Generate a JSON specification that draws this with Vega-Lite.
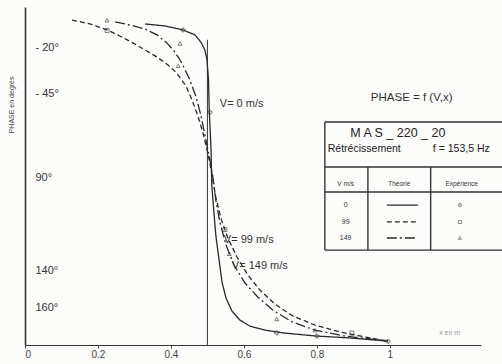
{
  "$schema": "https://vega.github.io/schema/vega-lite/v6.json",
  "width": 456,
  "height": 338,
  "padding": {"left": 25, "top": 7, "right": 21, "bottom": 19},
  "autosize": {"type": "none"},
  "background": "#fcfcfa",
  "config": {"view": {"stroke": null}, "font": "Liberation Sans", "text": {"font": "Liberation Sans", "color": "#333"}},
  "datasets": {
    "curves": [
      {"V": "0", "i": 1, "x": 0.329, "phase": 7.5},
      {"V": "0", "i": 2, "x": 0.384, "phase": 8.6},
      {"V": "0", "i": 3, "x": 0.433, "phase": 10.7},
      {"V": "0", "i": 4, "x": 0.466, "phase": 13.4},
      {"V": "0", "i": 5, "x": 0.482, "phase": 17.2},
      {"V": "0", "i": 6, "x": 0.493, "phase": 21.5},
      {"V": "0", "i": 7, "x": 0.499, "phase": 26.9},
      {"V": "0", "i": 8, "x": 0.503, "phase": 37.6},
      {"V": "0", "i": 9, "x": 0.505, "phase": 53.7},
      {"V": "0", "i": 10, "x": 0.510, "phase": 75.2},
      {"V": "0", "i": 11, "x": 0.512, "phase": 94},
      {"V": "0", "i": 12, "x": 0.518, "phase": 109},
      {"V": "0", "i": 13, "x": 0.523, "phase": 121},
      {"V": "0", "i": 14, "x": 0.532, "phase": 134.3},
      {"V": "0", "i": 15, "x": 0.540, "phase": 146.2},
      {"V": "0", "i": 16, "x": 0.551, "phase": 154.8},
      {"V": "0", "i": 17, "x": 0.567, "phase": 161.7},
      {"V": "0", "i": 18, "x": 0.589, "phase": 166.6},
      {"V": "0", "i": 19, "x": 0.616, "phase": 169.8},
      {"V": "0", "i": 20, "x": 0.658, "phase": 172},
      {"V": "0", "i": 21, "x": 0.712, "phase": 173.6},
      {"V": "0", "i": 22, "x": 0.800, "phase": 175.2},
      {"V": "0", "i": 23, "x": 0.890, "phase": 176.2},
      {"V": "0", "i": 24, "x": 0.995, "phase": 177.9},
      {"V": "99", "i": 1, "x": 0.129, "phase": 5.4},
      {"V": "99", "i": 2, "x": 0.178, "phase": 7.5},
      {"V": "99", "i": 3, "x": 0.225, "phase": 10.7},
      {"V": "99", "i": 4, "x": 0.260, "phase": 14},
      {"V": "99", "i": 5, "x": 0.296, "phase": 17.7},
      {"V": "99", "i": 6, "x": 0.329, "phase": 21.5},
      {"V": "99", "i": 7, "x": 0.362, "phase": 25.3},
      {"V": "99", "i": 8, "x": 0.392, "phase": 29.6},
      {"V": "99", "i": 9, "x": 0.416, "phase": 33.9},
      {"V": "99", "i": 10, "x": 0.441, "phase": 40.8},
      {"V": "99", "i": 11, "x": 0.458, "phase": 48.4},
      {"V": "99", "i": 12, "x": 0.474, "phase": 57},
      {"V": "99", "i": 13, "x": 0.488, "phase": 66.1},
      {"V": "99", "i": 14, "x": 0.501, "phase": 76.8},
      {"V": "99", "i": 15, "x": 0.512, "phase": 87.6},
      {"V": "99", "i": 16, "x": 0.523, "phase": 100.5},
      {"V": "99", "i": 17, "x": 0.537, "phase": 111.8},
      {"V": "99", "i": 18, "x": 0.556, "phase": 122.5},
      {"V": "99", "i": 19, "x": 0.581, "phase": 132.7},
      {"V": "99", "i": 20, "x": 0.611, "phase": 142.4},
      {"V": "99", "i": 21, "x": 0.644, "phase": 150.5},
      {"V": "99", "i": 22, "x": 0.685, "phase": 158},
      {"V": "99", "i": 23, "x": 0.734, "phase": 164.4},
      {"V": "99", "i": 24, "x": 0.795, "phase": 169.3},
      {"V": "99", "i": 25, "x": 0.863, "phase": 173},
      {"V": "99", "i": 26, "x": 0.932, "phase": 175.7},
      {"V": "99", "i": 27, "x": 0.995, "phase": 177.9},
      {"V": "149", "i": 1, "x": 0.247, "phase": 6.4},
      {"V": "149", "i": 2, "x": 0.288, "phase": 8.1},
      {"V": "149", "i": 3, "x": 0.329, "phase": 10.2},
      {"V": "149", "i": 4, "x": 0.362, "phase": 13.4},
      {"V": "149", "i": 5, "x": 0.389, "phase": 17.7},
      {"V": "149", "i": 6, "x": 0.411, "phase": 22.6},
      {"V": "149", "i": 7, "x": 0.430, "phase": 28.5},
      {"V": "149", "i": 8, "x": 0.452, "phase": 37.6},
      {"V": "149", "i": 9, "x": 0.468, "phase": 46.2},
      {"V": "149", "i": 10, "x": 0.482, "phase": 56.4},
      {"V": "149", "i": 11, "x": 0.496, "phase": 69.9},
      {"V": "149", "i": 12, "x": 0.507, "phase": 80.6},
      {"V": "149", "i": 13, "x": 0.515, "phase": 89.7},
      {"V": "149", "i": 14, "x": 0.523, "phase": 102},
      {"V": "149", "i": 15, "x": 0.534, "phase": 113.9},
      {"V": "149", "i": 16, "x": 0.551, "phase": 126.3},
      {"V": "149", "i": 17, "x": 0.573, "phase": 137},
      {"V": "149", "i": 18, "x": 0.603, "phase": 146.7},
      {"V": "149", "i": 19, "x": 0.638, "phase": 154.2},
      {"V": "149", "i": 20, "x": 0.679, "phase": 161.2},
      {"V": "149", "i": 21, "x": 0.732, "phase": 167.6},
      {"V": "149", "i": 22, "x": 0.795, "phase": 172},
      {"V": "149", "i": 23, "x": 0.877, "phase": 175.2},
      {"V": "149", "i": 24, "x": 0.995, "phase": 177.9}
    ],
    "experience": [
      {"V": "0", "x": 0.433, "phase": 10.7},
      {"V": "0", "x": 0.507, "phase": 55},
      {"V": "0", "x": 0.690, "phase": 173.5},
      {"V": "0", "x": 0.800, "phase": 175.2},
      {"V": "0", "x": 0.995, "phase": 178},
      {"V": "99", "x": 0.225, "phase": 11},
      {"V": "99", "x": 0.548, "phase": 118},
      {"V": "99", "x": 0.896, "phase": 173.6},
      {"V": "149", "x": 0.225, "phase": 5.5},
      {"V": "149", "x": 0.425, "phase": 18},
      {"V": "149", "x": 0.420, "phase": 30},
      {"V": "149", "x": 0.560, "phase": 131},
      {"V": "149", "x": 0.690, "phase": 166},
      {"V": "149", "x": 0.795, "phase": 172}
    ],
    "tableLines": [
      {"x": 0.822, "x2": 1.32, "phase": 60.2, "phase2": 60.2},
      {"x": 0.822, "x2": 1.32, "phase": 84.4, "phase2": 84.4},
      {"x": 0.822, "x2": 1.32, "phase": 97.8, "phase2": 97.8},
      {"x": 0.822, "x2": 1.32, "phase": 129, "phase2": 129},
      {"x": 0.822, "x2": 0.822, "phase": 60.2, "phase2": 129},
      {"x": 0.940, "x2": 0.940, "phase": 84.4, "phase2": 129},
      {"x": 1.112, "x2": 1.112, "phase": 84.4, "phase2": 129}
    ],
    "legendRows": [
      {"V": "0", "phase": 104.8, "x": 0.992, "x2": 1.077, "xm": 1.192, "xl": 0.879},
      {"V": "99", "phase": 113.9, "x": 0.992, "x2": 1.077, "xm": 1.192, "xl": 0.879},
      {"V": "149", "phase": 122.5, "x": 0.992, "x2": 1.077, "xm": 1.192, "xl": 0.879}
    ]
  },
  "layer": [
    {
      "data": {"values": [{"x": 0.5, "phase": 16, "phase2": 180}]},
      "mark": {"type": "rule", "color": "#333", "strokeWidth": 1},
      "encoding": {
        "x": {"field": "x", "type": "quantitative", "scale": {"domain": [0, 1.25], "nice": false, "zero": false},
          "axis": {"values": [0, 0.2, 0.4, 0.6, 0.8, 1], "labelExpr": "datum.value == 0 ? '0' : datum.value == 1 ? '1' : format(datum.value, '.1f')", "title": null, "grid": false, "ticks": true, "tickSize": 3, "tickColor": "#444", "domainColor": "#333", "domainWidth": 1.2, "labelFontSize": 10, "labelColor": "#444", "labelPadding": 1, "labelFont": "Liberation Sans"}},
        "y": {"field": "phase", "type": "quantitative", "scale": {"domain": [-1.6, 180], "nice": false, "zero": false, "reverse": true},
          "axis": {"values": [20, 45, 90, 140, 160], "labelExpr": "datum.value <= 45 ? '- ' + datum.value + '°' : '\u00a0\u00a0' + datum.value + '°'", "title": null, "grid": false, "ticks": false, "tickSize": 0, "labelAlign": "left", "labelBaseline": "middle", "labelPadding": -10, "labelFontSize": 11, "labelColor": "#333", "domainColor": "#333", "domainWidth": 1.6, "labelFont": "Liberation Sans"}},
        "y2": {"field": "phase2"}
      }
    },
    {
      "data": {"name": "curves"},
      "mark": {"type": "line", "color": "#2a2a2a", "strokeWidth": 1.3},
      "encoding": {
        "x": {"field": "x", "type": "quantitative"},
        "y": {"field": "phase", "type": "quantitative"},
        "order": {"field": "i", "type": "quantitative"},
        "strokeDash": {"field": "V", "type": "nominal", "scale": {"domain": ["0", "99", "149"], "range": [[1, 0], [5, 3], [10, 3, 2, 3]]}, "legend": null}
      }
    },
    {
      "data": {"name": "experience"},
      "mark": {"type": "point", "filled": false, "color": "#444", "size": 16, "strokeWidth": 1},
      "encoding": {
        "x": {"field": "x", "type": "quantitative"},
        "y": {"field": "phase", "type": "quantitative"},
        "shape": {"field": "V", "type": "nominal", "scale": {"domain": ["0", "99", "149"], "range": ["cross", "square", "triangle-up"]}, "legend": null}
      }
    },
    {
      "data": {"name": "tableLines"},
      "mark": {"type": "rule", "color": "#333", "strokeWidth": 1.4},
      "encoding": {
        "x": {"field": "x", "type": "quantitative"},
        "x2": {"field": "x2"},
        "y": {"field": "phase", "type": "quantitative"},
        "y2": {"field": "phase2"}
      }
    },
    {
      "data": {"name": "legendRows"},
      "mark": {"type": "rule", "color": "#2a2a2a", "strokeWidth": 1.3},
      "encoding": {
        "x": {"field": "x", "type": "quantitative"},
        "x2": {"field": "x2"},
        "y": {"field": "phase", "type": "quantitative"},
        "strokeDash": {"field": "V", "type": "nominal"}
      }
    },
    {
      "data": {"name": "legendRows"},
      "mark": {"type": "point", "filled": false, "color": "#555", "size": 10, "strokeWidth": 1},
      "encoding": {
        "x": {"field": "xm", "type": "quantitative"},
        "y": {"field": "phase", "type": "quantitative"},
        "shape": {"field": "V", "type": "nominal"}
      }
    },
    {
      "data": {"name": "legendRows"},
      "mark": {"type": "text", "fontSize": 7, "align": "center", "baseline": "middle", "color": "#333"},
      "encoding": {
        "x": {"field": "xl", "type": "quantitative"},
        "y": {"field": "phase", "type": "quantitative"},
        "text": {"field": "V"}
      }
    },
    {
      "data": {"values": [
        {"x": 0.879, "phase": 93.5, "label": "V m/s"},
        {"x": 1.026, "phase": 93.5, "label": "Théorie"},
        {"x": 1.197, "phase": 93.5, "label": "Expérience"}
      ]},
      "mark": {"type": "text", "fontSize": 6.5, "align": "center", "baseline": "middle", "color": "#333"},
      "encoding": {
        "x": {"field": "x", "type": "quantitative"},
        "y": {"field": "phase", "type": "quantitative"},
        "text": {"field": "label"}
      }
    },
    {
      "data": {"values": [
        {"x": 1.06, "phase": 47.3, "label": "PHASE = f (V,x)"}
      ]},
      "mark": {"type": "text", "fontSize": 11.5, "align": "center", "baseline": "middle", "color": "#333"},
      "encoding": {
        "x": {"field": "x", "type": "quantitative"},
        "y": {"field": "phase", "type": "quantitative"},
        "text": {"field": "label"}
      }
    },
    {
      "data": {"values": [
        {"x": 1.022, "phase": 66.1, "label": "M A S _ 220 _ 20"}
      ]},
      "mark": {"type": "text", "fontSize": 12.5, "align": "center", "baseline": "middle", "color": "#222"},
      "encoding": {
        "x": {"field": "x", "type": "quantitative"},
        "y": {"field": "phase", "type": "quantitative"},
        "text": {"field": "label"}
      }
    },
    {
      "data": {"values": [
        {"x": 0.83, "phase": 74.7, "label": "Rétrécissement"},
        {"x": 1.118, "phase": 74.7, "label": "f = 153,5 Hz"}
      ]},
      "mark": {"type": "text", "fontSize": 10.5, "align": "left", "baseline": "middle", "color": "#222"},
      "encoding": {
        "x": {"field": "x", "type": "quantitative"},
        "y": {"field": "phase", "type": "quantitative"},
        "text": {"field": "label"}
      }
    },
    {
      "data": {"values": [
        {"x": 0.534, "phase": 50.5, "label": "V= 0 m/s"},
        {"x": 0.545, "phase": 123.6, "label": "V= 99 m/s"},
        {"x": 0.567, "phase": 137.6, "label": "V= 149 m/s"}
      ]},
      "mark": {"type": "text", "fontSize": 11, "align": "left", "baseline": "middle", "color": "#333"},
      "encoding": {
        "x": {"field": "x", "type": "quantitative"},
        "y": {"field": "phase", "type": "quantitative"},
        "text": {"field": "label"}
      }
    },
    {
      "data": {"values": [
        {"x": 1.164, "phase": 173.6, "label": "x en m"}
      ]},
      "mark": {"type": "text", "fontSize": 7, "align": "center", "baseline": "middle", "color": "#999"},
      "encoding": {
        "x": {"field": "x", "type": "quantitative"},
        "y": {"field": "phase", "type": "quantitative"},
        "text": {"field": "label"}
      }
    },
    {
      "data": {"values": [
        {"x": -0.036, "phase": 51, "label": "PHASE en degrés"}
      ]},
      "mark": {"type": "text", "fontSize": 7, "align": "center", "baseline": "middle", "angle": 270, "color": "#444"},
      "encoding": {
        "x": {"field": "x", "type": "quantitative"},
        "y": {"field": "phase", "type": "quantitative"},
        "text": {"field": "label"}
      }
    }
  ]
}
